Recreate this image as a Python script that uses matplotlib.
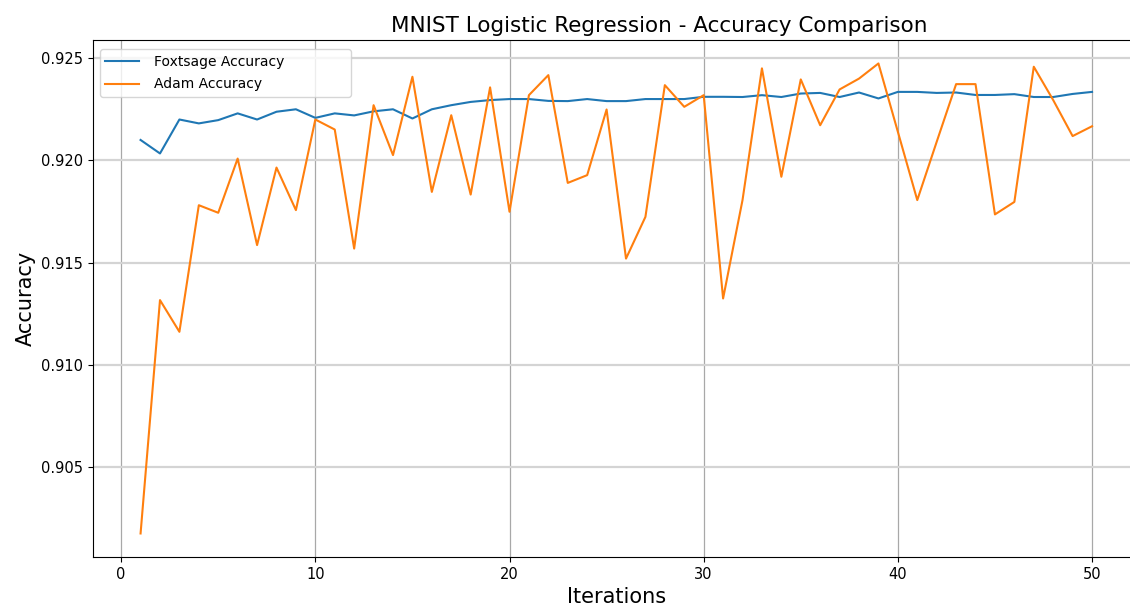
import matplotlib.pyplot as plt

iterations = list(range(1, 51))

foxtsage_acc = [0.9210, 0.92034, 0.9220, 0.92181, 0.92197, 0.9223, 0.9220, 0.92238, 0.9225, 0.92208,
                0.9223, 0.9222, 0.9224, 0.9225, 0.92205, 0.92250, 0.9227, 0.92286, 0.92295, 0.9230,
                0.9230, 0.92291, 0.9229, 0.9230, 0.9229, 0.9229, 0.9230, 0.9230, 0.9230, 0.92311,
                0.92311, 0.9231, 0.92319, 0.9231, 0.92327, 0.9233, 0.9231, 0.92332, 0.92303, 0.92335,
                0.92335, 0.9233, 0.92332, 0.9232, 0.9232, 0.92324, 0.9231, 0.9231, 0.92325, 0.92335]

adam_acc = [0.90176, 0.91317, 0.91162, 0.91781, 0.91744, 0.92009, 0.91586, 0.91965, 0.91757, 0.9220,
            0.92151, 0.91569, 0.9227, 0.92026, 0.92409, 0.91846, 0.92221, 0.91833, 0.92357, 0.91749,
            0.92319, 0.92417, 0.9189, 0.91928, 0.92249, 0.9152, 0.91724, 0.92368, 0.92262, 0.92319,
            0.91325, 0.91806, 0.9245, 0.9192, 0.92396, 0.92172, 0.92347, 0.9240, 0.92474, 0.9214,
            0.91806, 0.92091, 0.92373, 0.92373, 0.91736, 0.91797, 0.92458, 0.92295, 0.92119, 0.92167]

fig = plt.figure(figsize=(11.3, 6.13), dpi=100)
# axes runs a bit past the right edge, like the cropped original
ax = fig.add_axes([0.0823, 0.0914, 0.9262, 0.8434])

ax.plot(iterations, foxtsage_acc, label="Foxtsage Accuracy", color="tab:blue", linewidth=1.5)
ax.plot(iterations, adam_acc, label="Adam Accuracy", color="tab:orange", linewidth=1.5)

ax.set_title("MNIST Logistic Regression - Accuracy Comparison", fontsize=15.5, x=0.541)
ax.set_xlabel("Iterations", fontsize=15)
ax.set_ylabel("Accuracy", fontsize=15)
ax.tick_params(labelsize=10.5)

# wide legend box, as in the original
ax.legend(loc="upper left", fontsize=10, bbox_to_anchor=(0, 0, 0.253, 0.995), mode="expand",
          handlelength=2.4, handletextpad=1.1, labelspacing=0.6)

ax.grid(True, axis="x", color="#a8a8a8", linewidth=0.9)
ax.grid(True, axis="y", color="#d4d4d4", linewidth=1.6)

plt.savefig("out.png", dpi=100)
